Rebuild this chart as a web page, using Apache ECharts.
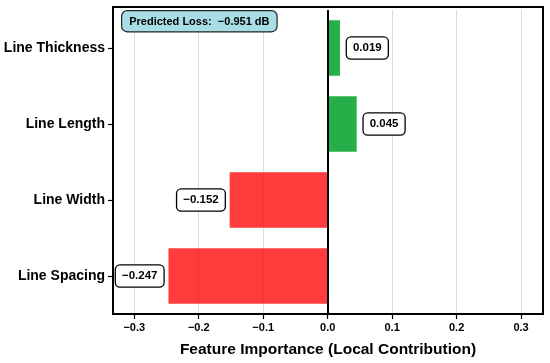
<!DOCTYPE html>
<html><head><meta charset="utf-8">
<script src="https://cdn.jsdelivr.net/npm/echarts@6/dist/echarts.min.js"></script>
<style>html,body{margin:0;padding:0;background:#fff}#c{width:550px;height:363px}</style>
</head><body><div id="c"></div>
<script>
const categories = ['Line Thickness', 'Line Length', 'Line Width', 'Line Spacing'];
const values = [0.019, 0.045, -0.152, -0.247];
const xTicks = [-0.3, -0.2, -0.1, 0.0, 0.1, 0.2, 0.3];
const predictedLoss = '−0.951 dB';
const xTitle = 'Feature Importance (Local Contribution)';

const FONT = 'Liberation Sans, Arial, sans-serif';
const fmt = v => (v < 0 ? '−' : '') + Math.abs(v).toFixed(3);

const chart = echarts.init(document.getElementById('c'), null, {renderer: 'canvas'});
chart.setOption({
  animation: false,
  backgroundColor: '#fff',
  grid: {left: 113, right: 7, top: 10, bottom: 49, containLabel: false, show: false},
  graphic: [{
    type: 'rect', z: 50, silent: true,
    shape: {x: 113, y: 7, width: 430, height: 307},
    style: {fill: null, stroke: '#000', lineWidth: 2}
  }, {
    type: 'text', left: 121, top: 10, z: 100,
    style: {
      text: 'Predicted Loss:  ' + predictedLoss,
      font: 'bold 11px ' + FONT, fill: '#000',
      backgroundColor: '#a9dde6', borderColor: '#222', borderWidth: 1.2,
      borderRadius: 5, padding: [5, 7, 4, 7]
    }
  }],
  xAxis: {
    type: 'value', min: -0.333, max: 0.334,
    name: xTitle, nameLocation: 'middle', nameGap: 28,
    nameTextStyle: {fontFamily: FONT, fontWeight: 'bold', fontSize: 15.5, color: '#000'},
    axisLine: {show: false, onZero: false},
    axisTick: {show: true, customValues: xTicks, length: 5, inside: false,
               lineStyle: {color: '#000', width: 1.2}},
    axisLabel: {customValues: xTicks, fontFamily: FONT, fontWeight: 'bold', fontSize: 11,
                color: '#000', margin: 8,
                formatter: v => (v < 0 ? '−' : '') + Math.abs(v).toFixed(1)},
    splitLine: {show: true, lineStyle: {color: '#dcdcdc', width: 1}}
  },
  yAxis: {
    type: 'category', data: categories, inverse: true,
    axisLine: {show: false, onZero: false},
    axisTick: {show: true, alignWithLabel: true, length: 5, inside: false,
               lineStyle: {color: '#000', width: 1.2}},
    axisLabel: {fontFamily: FONT, fontWeight: 'bold', fontSize: 14, color: '#000', margin: 8},
    splitLine: {show: false}
  },
  series: [{
    type: 'bar',
    data: values.map(v => ({
      value: v,
      itemStyle: {color: v >= 0 ? 'rgba(0,160,40,0.85)' : 'rgba(255,10,10,0.8)'},
      label: {position: v >= 0 ? 'right' : 'left', distance: v >= 0 ? 7 : 5}
    })),
    barCategoryGap: '27%',
    z: 1,
    label: {
      show: true, formatter: p => fmt(p.value),
      fontFamily: FONT, fontWeight: 'bold', fontSize: 11.5, color: '#000',
      backgroundColor: '#fff', borderColor: '#000', borderWidth: 1.3, borderRadius: 4,
      padding: [5, 6, 4, 6]
    },
    markLine: {
      silent: true, symbol: 'none', label: {show: false},
      lineStyle: {color: '#000', width: 2, type: 'solid'},
      data: [{xAxis: 0}]
    }
  }]
});
</script></body></html>
